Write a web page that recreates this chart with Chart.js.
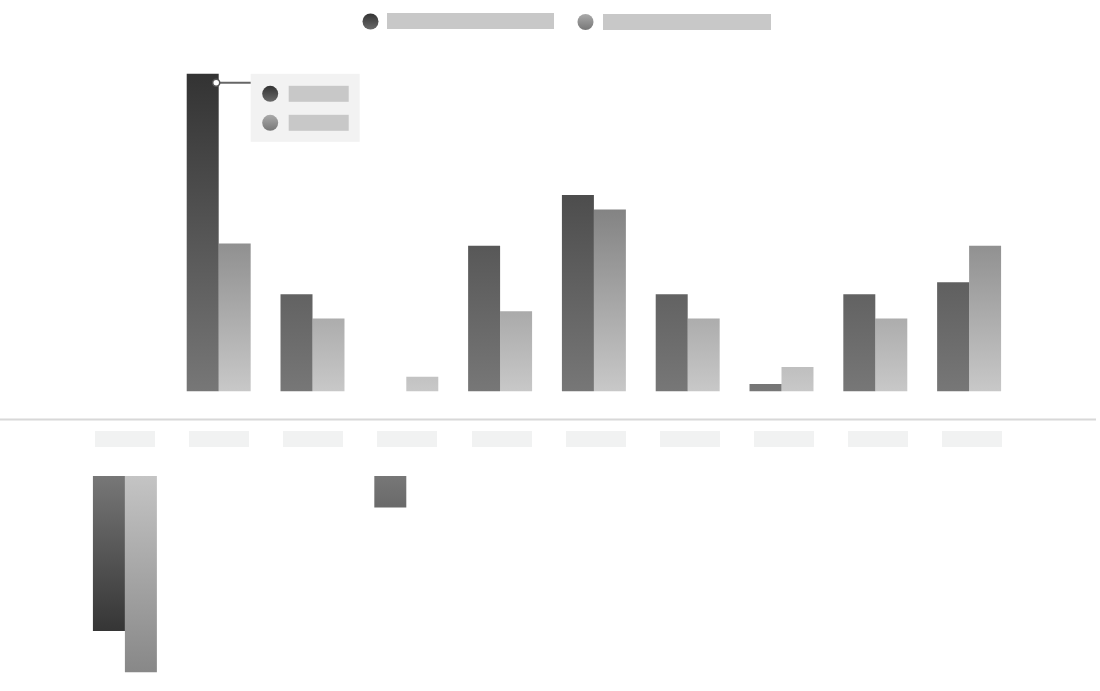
<!DOCTYPE html>
<html>
<head>
<meta charset="utf-8">
<script src="https://cdn.jsdelivr.net/npm/chart.js@4.4.0/dist/chart.umd.min.js"></script>
<style>
    html, body { margin: 0; padding: 0; background: #ffffff; }
    #wrap { width: 1100px; height: 691px; position: relative; }
</style>
</head>
<body>
<div id="wrap"><canvas id="barChart"></canvas></div>
<script>
const categories = ["Cat 1", "Cat 2", "Cat 3", "Cat 4", "Cat 5", "Cat 6", "Cat 7", "Cat 8", "Cat 9", "Cat 10"];
const seriesNames = ["Series A", "Series B"];
const darkValues = [-64, 131, 40, -13, 60, 81, 40, 3, 40, 45];
const lightValues = [-81, 61, 30, 6, 33, 75, 30, 10, 30, 60];
const tooltipIndex = 1;

const posPart = arr => arr.map(v => v > 0 ? v : null);
const negPart = arr => arr.map(v => v < 0 ? v : null);

function vGrad(ctx, y0, y1, c0, c1) {
    const g = ctx.createLinearGradient(0, y0, 0, y1);
    g.addColorStop(0, c0);
    g.addColorStop(1, c1);
    return g;
}

function barFill(kind) {
    return function (context) {
        const chart = context.chart;
        if (!chart.chartArea) return "#777";
        const c = chart.ctx;
        const top = chart.chartArea.top + 22;
        const posBase = chart.scales.yPos.getPixelForValue(0);
        const negBase = chart.scales.yNeg.getPixelForValue(0);
        if (kind === "darkPos") return vGrad(c, top, posBase, "#333333", "#777777");
        if (kind === "lightPos") return vGrad(c, top, posBase, "#505050", "#c8c8c8");
        if (kind === "darkNeg") return vGrad(c, negBase, negBase + 160, "#777777", "#333333");
        return vGrad(c, negBase, negBase + 205, "#c4c4c4", "#858585");
    };
}

function dot(c, x, y, r, c0, c1) {
    c.beginPath();
    c.arc(x, y, r, 0, Math.PI * 2);
    c.fillStyle = vGrad(c, y - r, y + r, c0, c1);
    c.fill();
}

const decorPlugin = {
    id: "decor",
    beforeDatasetsDraw(chart) {
        const c = chart.ctx;
        const xs = chart.scales.x;
        const first = xs.getPixelForValue(0);
        const step = (xs.getPixelForValue(1) - first) * 1.004;
        c.save();
        // axis line
        c.strokeStyle = "#d8d8d8";
        c.lineWidth = 2;
        c.beginPath();
        c.moveTo(0, 419.5);
        c.lineTo(1096, 419.5);
        c.stroke();
        // category label placeholders
        c.fillStyle = "#f1f2f2";
        categories.forEach((name, i) => {
            const cx = first + i * step;
            c.fillRect(Math.round(cx - 30), 431, 60, 16);
        });
        c.restore();
    },
    afterDraw(chart) {
        const c = chart.ctx;
        c.save();
        // legend
        dot(c, 370.5, 21.5, 8, "#333333", "#6a6a6a");
        c.fillStyle = "#c8c8c8";
        c.fillRect(387, 13, 167, 16);
        dot(c, 585.5, 22, 8, "#aaaaaa", "#777777");
        c.fillStyle = "#c8c8c8";
        c.fillRect(603, 14, 168, 16);

        // tooltip callout on the tall bar
        const bar = chart.getDatasetMeta(0).data[tooltipIndex];
        const ax = bar.x + bar.width / 2 - 2.5;
        const ay = bar.y + 9;
        const bx = ax + 34.5;
        const by = ay - 9;
        c.fillStyle = "#f2f2f2";
        c.fillRect(bx, by, 109, 68);
        c.strokeStyle = "#666666";
        c.lineWidth = 2;
        c.beginPath();
        c.moveTo(ax, ay);
        c.lineTo(bx, ay);
        c.stroke();
        c.beginPath();
        c.arc(ax, ay, 3.5, 0, Math.PI * 2);
        c.fillStyle = "#ffffff";
        c.fill();
        c.lineWidth = 1.5;
        c.strokeStyle = "#555555";
        c.stroke();
        dot(c, bx + 19.5, by + 20, 8, "#333333", "#6a6a6a");
        dot(c, bx + 19.5, by + 49, 8, "#aaaaaa", "#777777");
        c.fillStyle = "#c8c8c8";
        c.fillRect(bx + 38, by + 12, 60, 16);
        c.fillRect(bx + 38, by + 41, 60, 16);
        c.restore();
    }
};

const ctx = document.getElementById("barChart").getContext("2d");
new Chart(ctx, {
    type: "bar",
    data: {
        labels: categories,
        datasets: [
            { label: seriesNames[0], data: posPart(darkValues), yAxisID: "yPos", stack: "a", backgroundColor: barFill("darkPos") },
            { label: seriesNames[1], data: posPart(lightValues), yAxisID: "yPos", stack: "b", backgroundColor: barFill("lightPos") },
            { label: seriesNames[0], data: negPart(darkValues), yAxisID: "yNeg", stack: "a", backgroundColor: barFill("darkNeg") },
            { label: seriesNames[1], data: negPart(lightValues), yAxisID: "yNeg", stack: "b", backgroundColor: barFill("lightNeg") }
        ]
    },
    options: {
        responsive: true,
        maintainAspectRatio: false,
        animation: false,
        layout: { padding: { top: 52, bottom: 9, left: 78, right: 84 } },
        datasets: { bar: { categoryPercentage: 0.682, barPercentage: 1, borderWidth: 0 } },
        scales: {
            x: { display: false },
            yPos: { display: false, min: -120, max: 140 },
            yNeg: { display: false, min: -85, max: 175 }
        },
        plugins: {
            legend: { display: false },
            tooltip: { enabled: false }
        }
    },
    plugins: [decorPlugin]
});
</script>
</body>
</html>
